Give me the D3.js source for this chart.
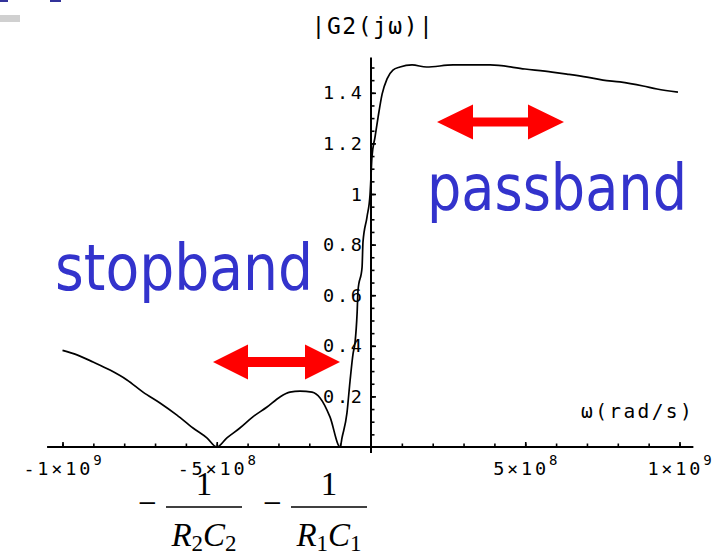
<!DOCTYPE html>
<html>
<head>
<meta charset="utf-8">
<script src="https://cdn.jsdelivr.net/npm/d3@7"></script>
<style>
  html, body { margin: 0; padding: 0; background: #fff; }
  svg { display: block; }
</style>
</head>
<body>
<div id="chart"></div>
<script>
// |G2(jω)| magnitude response, ω in units of 1e8 rad/s
const omegaE8 = [-10.0, -9.53, -9.01, -8.46, -7.91, -7.39, -6.84, -6.29, -5.77, -5.32,
  -5.0, -4.67, -4.25, -3.83, -3.37, -2.95, -2.63, -2.30, -1.91, -1.65,
  -1.33, -1.0, -0.94, -0.78, -0.68, -0.58, -0.52, -0.45, -0.42, -0.29,
  -0.26, -0.13, -0.03, 0.0, 0.03, 0.13, 0.23, 0.36, 0.52, 0.71,
  0.94, 1.33, 1.8, 2.66, 3.86, 4.99, 5.87, 6.35, 7.0, 7.52,
  8.07, 8.82, 9.27, 9.95];
const magnitude = [0.382, 0.364, 0.336, 0.304, 0.265, 0.217, 0.174, 0.126, 0.075, 0.036,
  0.0, 0.036, 0.075, 0.119, 0.158, 0.198, 0.217, 0.221, 0.217, 0.194,
  0.119, 0.0, 0.036, 0.134, 0.26, 0.37, 0.41, 0.53, 0.62, 0.71,
  0.81, 0.909, 1.0, 1.07, 1.146, 1.225, 1.304, 1.395, 1.455, 1.49,
  1.502, 1.51, 1.502, 1.51, 1.51, 1.494, 1.482, 1.474, 1.462, 1.45,
  1.443, 1.427, 1.415, 1.403];

// axis ticks and labels
const xMajorTicks = [-1e9, -5e8, 5e8, 1e9];
const xTickMantissa = ["-1×10", "-5×10", "5×10", "1×10"];
const xTickExponent = ["9", "8", "8", "9"];
const yTickValues = [0.2, 0.4, 0.6, 0.8, 1.0, 1.2, 1.4];
const yTickLabels = ["0.2", "0.4", "0.6", "0.8", "1", "1.2", "1.4"];

const W = 718, H = 555;
const blue = "#3333cc", red = "#ff0000";
const mono = "'DejaVu Sans Mono', monospace";

const svg = d3.select("#chart").append("svg")
  .attr("width", W).attr("height", H)
  .attr("viewBox", `0 0 ${W} ${H}`);
svg.append("rect").attr("width", W).attr("height", H).attr("fill", "#fff");

// slide decorations in the top-left corner
svg.append("rect").attr("x", 0).attr("y", 0).attr("width", 8).attr("height", 2).attr("fill", "#33339a");
svg.append("rect").attr("x", 50).attr("y", 0).attr("width", 11).attr("height", 2).attr("fill", "#33339a");
svg.append("rect").attr("x", 0).attr("y", 15).attr("width", 20).attr("height", 7).attr("fill", "#d0d0d0");

const x = d3.scaleLinear().domain([-1e9, 1e9]).range([62.5, 679.5]);
const y = d3.scaleLinear().domain([0, 1.4]).range([447, 447 - 1.4 * 253]);

const plot = svg.append("g");

// x axis: minor ticks every 1e8, major at labelled values (pointing up)
const xMinor = d3.range(-10, 11).filter(d => d !== 0).map(d => d * 1e8);
const gxMinor = plot.append("g").attr("transform", `translate(0,${y(0)})`)
  .call(d3.axisBottom(x).tickValues(xMinor).tickSize(-3.5).tickFormat(""));
const gxMajor = plot.append("g").attr("transform", `translate(0,${y(0)})`)
  .call(d3.axisBottom(x).tickValues(xMajorTicks).tickSize(-5).tickFormat(""));
[gxMinor, gxMajor].forEach(g => {
  g.select(".domain").remove();
  g.selectAll(".tick line").attr("stroke", "#000").attr("stroke-width", 1.6);
});

// y axis: minor ticks every 0.05, major at labelled values (pointing right)
const yMinor = d3.range(1, 31).map(d => d * 0.05);
const gyMinor = plot.append("g").attr("transform", `translate(${x(0)},0)`)
  .call(d3.axisRight(y).tickValues(yMinor).tickSize(3.5).tickFormat(""));
const gyMajor = plot.append("g").attr("transform", `translate(${x(0)},0)`)
  .call(d3.axisRight(y).tickValues(yTickValues).tickSize(5).tickFormat(""));
[gyMinor, gyMajor].forEach(g => {
  g.select(".domain").remove();
  g.selectAll(".tick line").attr("stroke", "#000").attr("stroke-width", 1.6);
});

// axis lines
plot.append("line")
  .attr("x1", x(-1.05e9)).attr("x2", x(1.045e9))
  .attr("y1", y(0)).attr("y2", y(0))
  .attr("stroke", "#000").attr("stroke-width", 2);
plot.append("line")
  .attr("x1", x(0)).attr("x2", x(0))
  .attr("y1", y(-0.024)).attr("y2", y(1.54))
  .attr("stroke", "#000").attr("stroke-width", 2);

// response curve
const pts = omegaE8.map((w, i) => [w * 1e8, magnitude[i]]);
plot.append("path")
  .datum(pts)
  .attr("d", d3.line().x(d => x(d[0])).y(d => y(d[1])).curve(d3.curveMonotoneX))
  .attr("fill", "none").attr("stroke", "#000").attr("stroke-width", 1.7);

// x tick labels with exponents
const lsp = 2.8;
xMajorTicks.forEach((v, i) => {
  const t = plot.append("text")
    .attr("x", x(v) + lsp / 2).attr("y", 475)
    .attr("text-anchor", "middle")
    .attr("font-family", mono).attr("font-size", 18.5)
    .attr("letter-spacing", lsp).attr("fill", "#000");
  t.append("tspan").text(xTickMantissa[i]);
  t.append("tspan").attr("dy", -10).attr("font-size", 14).text(xTickExponent[i]);
});

// y tick labels
yTickValues.forEach((v, i) => {
  plot.append("text")
    .attr("x", 362 + lsp).attr("y", y(v) + 6.5)
    .attr("text-anchor", "end")
    .attr("font-family", mono).attr("font-size", 18.5)
    .attr("letter-spacing", lsp).attr("fill", "#000")
    .text(yTickLabels[i]);
});

// axis titles
svg.append("text")
  .attr("x", 373).attr("y", 34)
  .attr("text-anchor", "middle")
  .attr("font-family", mono).attr("font-size", 23)
  .attr("letter-spacing", 1.5).attr("fill", "#000")
  .text("|G2(jω)|");
svg.append("text")
  .attr("x", 581).attr("y", 418)
  .attr("font-family", mono).attr("font-size", 19.5)
  .attr("letter-spacing", 2.4).attr("fill", "#000")
  .text("ω(rad/s)");

// band annotations
svg.append("text")
  .attr("x", 427).attr("y", 210)
  .attr("font-family", "'DejaVu Sans', sans-serif").attr("font-size", 64)
  .attr("textLength", 260).attr("lengthAdjust", "spacingAndGlyphs")
  .attr("fill", blue).text("passband");
svg.append("text")
  .attr("x", 55).attr("y", 290)
  .attr("font-family", "'DejaVu Sans', sans-serif").attr("font-size", 64)
  .attr("textLength", 258).attr("lengthAdjust", "spacingAndGlyphs")
  .attr("fill", blue).text("stopband");

// double-headed arrows
function doubleArrow(x0, x1, cy, headLen, headHalf, shaftHalf) {
  const p = d3.path();
  p.moveTo(x0, cy);
  p.lineTo(x0 + headLen, cy - headHalf);
  p.lineTo(x0 + headLen, cy - shaftHalf);
  p.lineTo(x1 - headLen, cy - shaftHalf);
  p.lineTo(x1 - headLen, cy - headHalf);
  p.lineTo(x1, cy);
  p.lineTo(x1 - headLen, cy + headHalf);
  p.lineTo(x1 - headLen, cy + shaftHalf);
  p.lineTo(x0 + headLen, cy + shaftHalf);
  p.lineTo(x0 + headLen, cy + headHalf);
  p.closePath();
  svg.append("path").attr("d", p.toString()).attr("fill", red);
}
doubleArrow(437, 564, 122, 36, 17.5, 4.5);
doubleArrow(213, 340, 362, 35, 17.5, 5);

// pole locations under the axis: −1/(R2C2) and −1/(R1C1)
const serif = "'Liberation Serif', 'Times New Roman', serif";
function fraction(cx, sub) {
  svg.append("text")
    .attr("x", cx - 66).attr("y", 514)
    .attr("font-family", serif).attr("font-size", 33)
    .attr("fill", "#000").text("−");
  svg.append("line")
    .attr("x1", cx - 38).attr("x2", cx + 38)
    .attr("y1", 507).attr("y2", 507)
    .attr("stroke", "#000").attr("stroke-width", 1.5);
  svg.append("text")
    .attr("x", cx).attr("y", 495)
    .attr("text-anchor", "middle")
    .attr("font-family", serif).attr("font-size", 33)
    .attr("fill", "#000").text("1");
  const d = svg.append("text")
    .attr("x", cx).attr("y", 546)
    .attr("text-anchor", "middle")
    .attr("font-family", serif).attr("font-size", 33)
    .attr("fill", "#000");
  d.append("tspan").attr("font-style", "italic").text("R");
  d.append("tspan").attr("font-size", 23).attr("dy", 5).text(sub);
  d.append("tspan").attr("font-style", "italic").attr("dy", -5).text("C");
  d.append("tspan").attr("font-size", 23).attr("dy", 5).text(sub);
}
fraction(204, "2");
fraction(329, "1");
</script>
</body>
</html>
